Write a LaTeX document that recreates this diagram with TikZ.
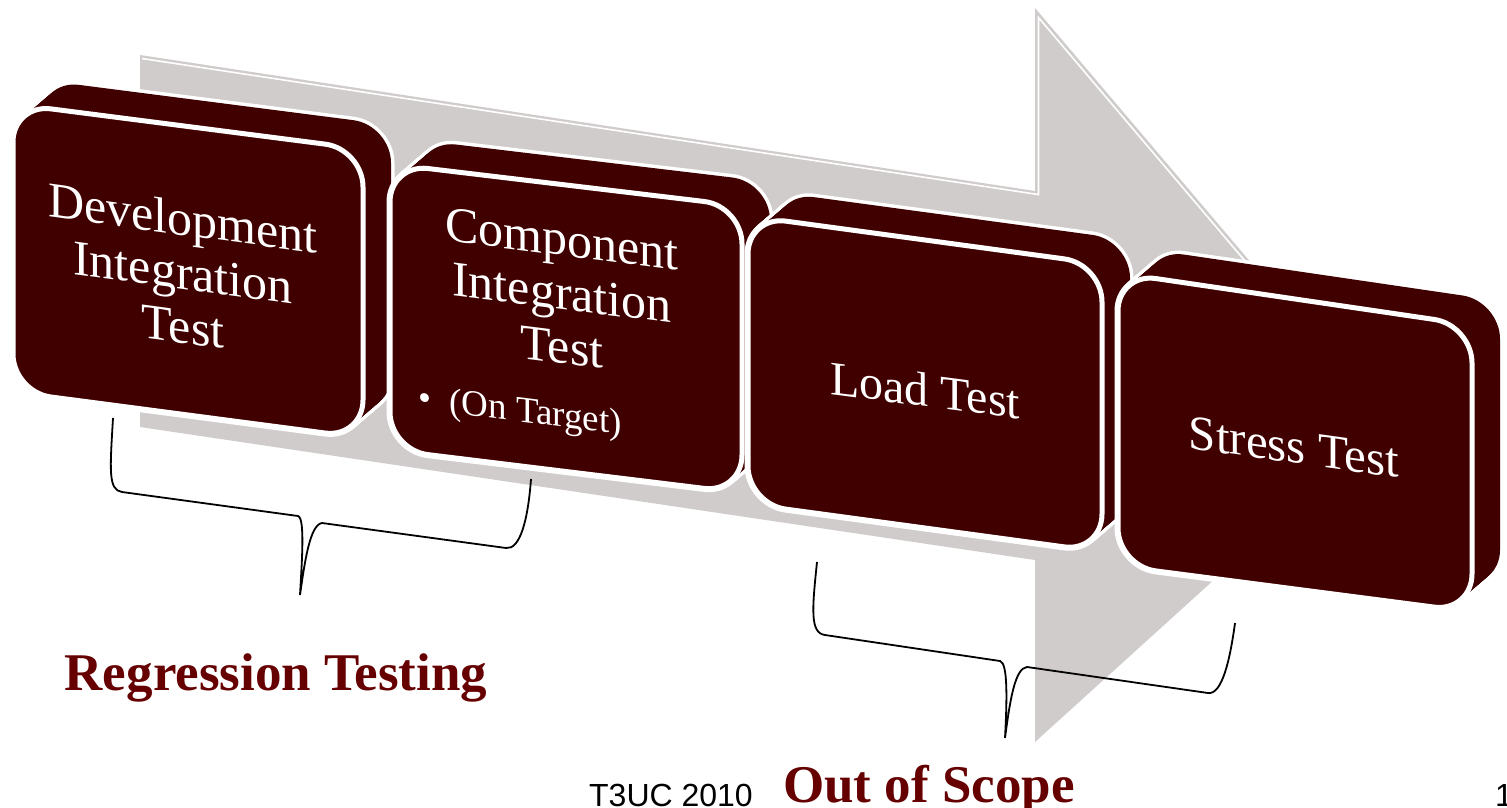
\documentclass[tikz,border=0pt]{standalone}
\usepackage{fontspec}
\setmainfont{Liberation Serif}
\newfontfamily\arialf{Liberation Sans}
\definecolor{boxred}{HTML}{410000}
\definecolor{arrowgrey}{HTML}{CFCCCB}
\definecolor{labelred}{HTML}{660000}
\tikzset{
  sil/.style={draw=white, line width=7pt, rounded corners=38pt},
  silfill/.style={fill=boxred, rounded corners=38pt},
  face/.style={fill=boxred, draw=white, line width=5pt, rounded corners=38pt},
  boxtext/.style={text=white, align=center, inner sep=0pt},
  bracestyle/.style={draw=black, line width=1.8pt},
  biglabel/.style={text=labelred, font=\bfseries\fontsize{53}{60}\selectfont, inner sep=0pt, anchor=base},
}
\newcommand\tdbox[8]{%
  \foreach \i in {0,...,16}{\path[sil, shift={(1.75*\i,-1.5*\i)}] (#1,#2) -- (#3,#4) -- (#5,#6) -- (#7,#8) -- cycle;}
  \foreach \i in {0,...,16}{\path[silfill, shift={(1.75*\i,-1.5*\i)}] (#1,#2) -- (#3,#4) -- (#5,#6) -- (#7,#8) -- cycle;}
  \path[face] (#1,#2) -- (#3,#4) -- (#5,#6) -- (#7,#8) -- cycle;
}
\begin{document}
\begin{tikzpicture}[x=1pt,y=-1pt]
\useasboundingbox (0,0) rectangle (1507,808);
\fill[white] (0,0) rectangle (1507,808);
% big grey arrow
\fill[arrowgrey] (140,55) -- (1035,191) -- (1035,8) -- (1387,423) -- (1035,742) -- (1035,560) -- (140,427) -- cycle;
\draw[white, line width=1.6pt] (142,58.5) -- (1038.5,194.6) -- (1038.5,17.6) -- (1290,314);
% boxes
\tdbox{13}{104}{363}{149}{363}{438}{13}{392}
\tdbox{390}{164}{742}{206}{742}{493}{390}{450}
\tdbox{748}{216}{1102}{264}{1102}{552}{748}{504}
\tdbox{1118}{273}{1472}{325}{1472}{612}{1118}{566}
% box texts
\node[boxtext, yslant=-0.135, font=\fontsize{50}{54}\selectfont] (t1) at (183,272) {Development\\Integration\\Test};
\node[boxtext, yslant=-0.125, font=\fontsize{50}{54}\selectfont] (t2) at (562,293) {Component\\Integration\\Test};
\node[boxtext, yslant=-0.125, font=\fontsize{37}{40}\selectfont] (t2b) at (520,413) {•\hspace{18pt}(On Target)};
\node[boxtext, yslant=-0.13, font=\fontsize{48}{52}\selectfont] (t3) at (925,390) {Load Test};
\node[boxtext, yslant=-0.14, font=\fontsize{49}{52}\selectfont] (t4) at (1294,447) {Stress Test};
% braces
\draw[bracestyle] (113,418) .. controls (110,470) and (108,490) .. (122,492) -- (298,516) .. controls (305,518) and (302,560) .. (300,595) .. controls (305,560) and (310,525) .. (322,523) -- (506,548) .. controls (520,550) and (528,520) .. (531,479);
\draw[bracestyle] (817,562) .. controls (812,610) and (810,633) .. (825,635) -- (1000,661) .. controls (1008,663) and (1007,700) .. (1005,738) .. controls (1010,700) and (1015,668) .. (1027,667) -- (1208,693) .. controls (1222,695) and (1230,660) .. (1235,623);
% labels
\node[biglabel] (reg) at (276,690) {Regression Testing};
\node[biglabel] (oos) at (929,802) {Out of Scope};
\node[font=\arialf\fontsize{32}{36}\selectfont, anchor=base, inner sep=0pt] (foot) at (671,806) {T3UC 2010};
\node[font=\arialf\fontsize{32}{36}\selectfont, anchor=base west, inner sep=0pt] (pg) at (1495,806) {1};
\end{tikzpicture}
\end{document}
